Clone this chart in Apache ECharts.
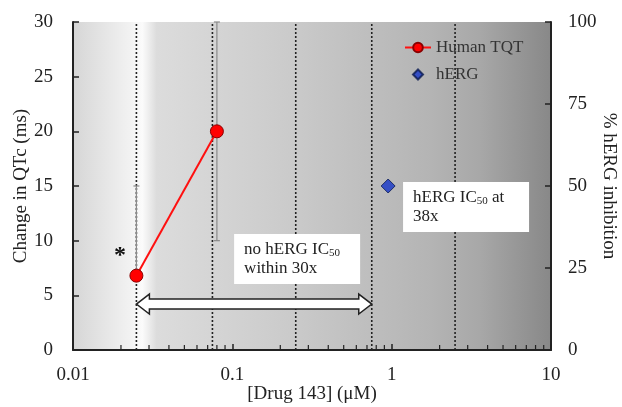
<!DOCTYPE html>
<html>
<head>
<meta charset="utf-8">
<script src="https://cdn.jsdelivr.net/npm/echarts@6/dist/echarts.min.js"></script>
<style>html,body{margin:0;padding:0;background:#fff}#c{width:622px;height:407px}</style>
</head>
<body>
<div id="c"></div>
<script>
// ---- data ----
const tqtX = [0.025, 0.08];
const tqtY = [6.8, 20];
const tqtErrLow = [6.8, 10];
const tqtErrHigh = [15, 30];
const hergX = [0.95];
const hergY = [50];
const refLineX = [0.025, 0.075, 0.25, 0.75, 2.5];
const xTickLabels = ['0.01', '0.1', '1', '10'];
const leftTicks = [0, 5, 10, 15, 20, 25, 30];
const rightTicks = [0, 25, 50, 75, 100];
const minorTickX = [0.02,0.03,0.04,0.05,0.06,0.07,0.08,0.09,0.2,0.3,0.4,0.5,0.6,0.7,0.8,0.9,2,3,4,5,6,7,8,9];
const arrowFrom = [0.025];
const arrowTo = [0.75];
const arrowY = [4.2];
const noteTexts = ['no hERG IC{sub|50}\nwithin 30x', 'hERG IC{sub|50} at\n38x', '*'];
const noteX = [0.1026, 1.179, 0.0197];
const noteY = [10.6, 15.37, 8.6];

const FONT = "'Liberation Serif', 'Times New Roman', serif";
const chart = echarts.init(document.getElementById('c'), null, {renderer: 'canvas'});

const option = {
  animation: false,
  backgroundColor: '#fff',
  textStyle: {fontFamily: FONT},
  grid: {
    left: 73, right: 71, top: 22, bottom: 57, show: true, borderWidth: 0,
    outerBoundsMode: 'none', containLabel: false,
    backgroundColor: new echarts.graphic.LinearGradient(0, 0, 1, 0, [
      {offset: 0, color: '#d6d6d6'},
      {offset: 0.12, color: '#f2f2f2'},
      {offset: 0.145, color: '#fbfbfb'},
      {offset: 0.175, color: '#dcdcdc'},
      {offset: 0.45, color: '#cbcbcb'},
      {offset: 0.75, color: '#b4b4b4'},
      {offset: 0.85, color: '#a8a8a8'},
      {offset: 1, color: '#888888'}
    ])
  },
  legend: {
    orient: 'vertical', left: 404, top: 39, padding: 0, itemGap: 10, itemWidth: 26, itemHeight: 12,
    textStyle: {fontFamily: FONT, fontSize: 17, color: '#333'},
    data: [
      {name: 'Human TQT'},
      {name: 'hERG', icon: 'path://M0,0 M26,12 M13,1 L18,6 L13,11 L8,6 Z'}
    ]
  },
  xAxis: {
    type: 'log', logBase: 10, min: 0.01, max: 10,
    name: '[Drug 143] (μM)', nameLocation: 'middle', nameGap: 35, nameMoveOverlap: false,
    nameTextStyle: {fontFamily: FONT, fontSize: 19, color: '#222'},
    axisLine: {lineStyle: {color: '#222', width: 2}},
    axisTick: {inside: true, length: 6, lineStyle: {color: '#222', width: 1.5}},
    axisLabel: {fontFamily: FONT, fontSize: 19, color: '#222', margin: 16,
      formatter: v => { const i = Math.round(Math.log10(v)) + 2; return xTickLabels[i] !== undefined ? xTickLabels[i] : ''; }},
    splitLine: {show: false}
  },
  yAxis: [{
    type: 'value', min: leftTicks[0], max: leftTicks[leftTicks.length - 1], interval: 5,
    name: 'Change in QTc (ms)', nameLocation: 'middle', nameGap: 42, nameMoveOverlap: false,
    nameTextStyle: {fontFamily: FONT, fontSize: 19, color: '#222'},
    axisLine: {show: true, lineStyle: {color: '#222', width: 2}},
    axisTick: {show: true, inside: true, length: 6, lineStyle: {color: '#222', width: 1.5}},
    axisLabel: {fontFamily: FONT, fontSize: 19, color: '#222', margin: 20},
    splitLine: {show: false}
  }, {
    type: 'value', position: 'right', min: rightTicks[0], max: rightTicks[rightTicks.length - 1], interval: 25,
    name: '% hERG inhibition', nameLocation: 'middle', nameGap: 48, nameRotate: -90, nameMoveOverlap: false,
    nameTextStyle: {fontFamily: FONT, fontSize: 19, color: '#222'},
    axisLine: {show: true, lineStyle: {color: '#222', width: 2}},
    axisTick: {show: true, inside: true, length: 6, lineStyle: {color: '#222', width: 1.5}},
    axisLabel: {fontFamily: FONT, fontSize: 19, color: '#222', margin: 17},
    splitLine: {show: false}
  }],
  series: [
    {
      name: 'refLines', type: 'custom', silent: true, z: 2,
      encode: {x: 0, y: [1, 2]},
      data: refLineX.map(v => [v, leftTicks[0], leftTicks[leftTicks.length - 1]]),
      renderItem: (params, api) => {
        const lo = api.coord([api.value(0), api.value(1)]);
        const hi = api.coord([api.value(0), api.value(2)]);
        return {type: 'line', shape: {x1: lo[0], y1: lo[1], x2: hi[0], y2: hi[1]},
          style: {stroke: '#222', lineWidth: 1.6, lineDash: [2, 2]}};
      }
    },
    {
      name: 'minorTicks', type: 'custom', silent: true, z: 5,
      data: minorTickX.map(v => [v, 0]),
      renderItem: (params, api) => {
        const p = api.coord([api.value(0), 0]);
        return {type: 'line', shape: {x1: p[0], y1: p[1], x2: p[0], y2: p[1] - 5},
          style: {stroke: '#222', lineWidth: 1.2}};
      }
    },
    {
      name: 'errorBars', type: 'custom', silent: true, z: 3,
      encode: {x: 0, y: [1, 2]},
      data: tqtX.map((x, i) => [x, tqtErrLow[i], tqtErrHigh[i]]),
      renderItem: (params, api) => {
        const lo = api.coord([api.value(0), api.value(1)]);
        const hi = api.coord([api.value(0), api.value(2)]);
        const st = {stroke: '#8a8a8a', lineWidth: 1.2};
        return {type: 'group', children: [
          {type: 'line', shape: {x1: lo[0], y1: lo[1], x2: hi[0], y2: hi[1]}, style: st},
          {type: 'line', shape: {x1: hi[0] - 3, y1: hi[1], x2: hi[0] + 3, y2: hi[1]}, style: st},
          {type: 'line', shape: {x1: lo[0] - 3, y1: lo[1], x2: lo[0] + 3, y2: lo[1]}, style: st}
        ]};
      }
    },
    {
      name: 'arrow', type: 'custom', silent: true, z: 4,
      encode: {x: [0, 1], y: 2},
      data: arrowFrom.map((x, i) => [x, arrowTo[i], arrowY[i]]),
      renderItem: (params, api) => {
        const a = api.coord([api.value(0), api.value(2)]);
        const b = api.coord([api.value(1), api.value(2)]);
        const y = a[1], hl = 13, hh = 10, sh = 5;
        return {type: 'polygon', shape: {points: [
          [a[0], y], [a[0] + hl, y - hh], [a[0] + hl, y - sh], [b[0] - hl, y - sh], [b[0] - hl, y - hh],
          [b[0], y], [b[0] - hl, y + hh], [b[0] - hl, y + sh], [a[0] + hl, y + sh], [a[0] + hl, y + hh]
        ]}, style: {fill: '#fff', stroke: '#222', lineWidth: 1.5}};
      }
    },
    {
      name: 'notes', type: 'custom', silent: true, z: 6,
      encode: {x: 0, y: 1},
      data: noteTexts.map((t, i) => [noteX[i], noteY[i], i]),
      renderItem: (params, api) => {
        const i = api.value(2);
        const p = api.coord([api.value(0), api.value(1)]);
        if (noteTexts[i] === '*') {
          return {type: 'text', x: p[0], y: p[1], style: {text: '*', fontFamily: FONT, fontSize: 24, fontWeight: 'bold',
            fill: '#111', align: 'center', verticalAlign: 'middle'}};
        }
        return {type: 'text', x: p[0], y: p[1], style: {
          text: noteTexts[i], fontFamily: FONT, fontSize: 17, fill: '#222', lineHeight: 19,
          align: 'left', verticalAlign: 'top', backgroundColor: '#fff',
          width: 106, padding: [6, 10, 6, 10],
          rich: {sub: {fontFamily: FONT, fontSize: 11, verticalAlign: 'bottom', lineHeight: 8, fill: '#222'}}
        }};
      }
    },
    {
      name: 'Human TQT', type: 'line', z: 7,
      data: tqtX.map((x, i) => [x, tqtY[i]]),
      symbol: 'circle', symbolSize: 13,
      lineStyle: {color: '#ff1010', width: 2},
      itemStyle: {color: '#ff0000', borderColor: '#8a0000', borderWidth: 1}
    },
    {
      name: 'hERG', type: 'scatter', yAxisIndex: 1, z: 7,
      data: hergX.map((x, i) => [x, hergY[i]]),
      symbol: 'diamond', symbolSize: 14,
      itemStyle: {color: '#1434c8', borderColor: '#0a1a50', borderWidth: 1}
    }
  ]
};
chart.setOption(option);
</script>
</body>
</html>
